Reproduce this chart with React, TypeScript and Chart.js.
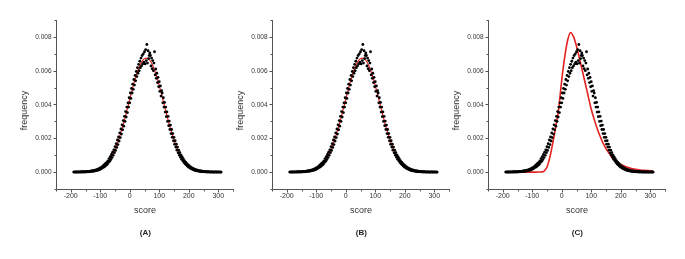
import React, { useEffect, useRef } from 'react';
import { Chart, registerables } from 'chart.js';

Chart.register(...registerables);

// ---- DATA ----
// observed scores: every 2 points from -190 to 310
const scoreStart = -190;
const scoreStep = 2;
// observed frequency, in units of 1e-5
const observedFreq = [
  0, 1, 0, 0, 1, 0, 1, 0, 0, 1,
  1, 0, 1, 2, 0, 1, 2, 1, 0, 2,
  2, 1, 3, 2, 3, 2, 4, 3, 5, 4,
  7, 4, 8, 5, 10, 6, 12, 8, 13, 10,
  16, 11, 19, 14, 24, 17, 27, 20, 31, 26,
  38, 29, 44, 34, 52, 40, 58, 47, 67, 57,
  80, 64, 92, 74, 104, 86, 118, 99, 132, 115,
  150, 128, 168, 146, 190, 163, 208, 184, 232, 204,
  255, 225, 280, 250, 305, 272, 330, 300, 358, 326,
  385, 352, 410, 385, 440, 410, 468, 436, 495, 468,
  520, 490, 548, 515, 572, 540, 596, 565, 618, 585,
  638, 600, 656, 618, 675, 628, 690, 640, 700, 650,
  712, 640, 725, 660, 755, 645, 718, 672, 690, 705,
  690, 628, 675, 612, 660, 600, 645, 712, 575, 610,
  555, 585, 530, 560, 505, 535, 478, 510, 450, 482,
  468, 410, 440, 385, 412, 355, 385, 328, 356, 300,
  330, 275, 302, 252, 278, 228, 252, 206, 228, 185,
  206, 165, 186, 148, 165, 130, 148, 114, 130, 100,
  115, 88, 100, 76, 88, 66, 77, 56, 66, 48,
  58, 42, 50, 35, 43, 29, 36, 24, 31, 20,
  26, 17, 22, 14, 19, 11, 16, 9, 13, 7,
  11, 6, 9, 4, 8, 3, 7, 2, 5, 3,
  4, 2, 3, 1, 3, 1, 2, 0, 2, 1,
  1, 0, 1, 0, 1, 0, 1, 0, 0, 1,
  0, 1, 0, 0, 1, 0, 0, 1, 0, 0,
  0,
];

const fitScores = [
  -190, -180, -170, -160, -150, -140, -130, -120, -110, -100,
  -90, -80, -70, -60, -50, -40, -30, -20, -10, 0,
  10, 20, 30, 40, 50, 60, 70, 80, 90, 100,
  110, 120, 130, 140, 150, 160, 170, 180, 190, 200,
  210, 220, 230, 240, 250, 260, 270, 280, 290, 300, 310,
];
// fitted curves, in units of 1e-5
const normalFit = [
  0.1, 0.23, 0.44, 0.83, 1.5, 2.7, 4.7, 7.9, 12.9, 20.5,
  31.6, 47.4, 69.1, 97.8, 134.5, 179.8, 233.7, 295.0, 361.8, 431.0,
  498.9, 561.2, 613.4, 651.6, 672.5, 674.4, 657.2, 622.3, 572.6, 511.9,
  444.9, 375.6, 308.0, 245.4, 189.9, 142.9, 104.5, 74.2, 51.2, 34.4,
  22.4, 14.2, 8.7, 5.2, 3.05, 1.8, 1.0, 0.55, 0.3, 0.15, 0.07,
];
const skewFit = [
  0, 0, 0, 0, 0, 0, 0, 0, 0, 0,
  0, 0.2, 1, 6, 30, 90, 175, 272, 380, 545,
  680, 780, 826, 800, 745, 672, 598, 523, 447, 372,
  312, 258, 212, 172, 139, 112, 88, 69, 55, 45,
  37, 30, 25, 20, 16, 13, 11, 10, 9, 8, 8,
];

const xTickValues = [-200, -100, 0, 100, 200, 300];
const yTickValues = [0, 0.002, 0.004, 0.006, 0.008];
const panelLabels = ['(A)', '(B)', '(C)'];
const xTitle = 'score';
const yTitle = 'frequency';

// ---- STYLE ----
const FONT = '"Liberation Sans", Arial, sans-serif';
const TEXT = '#333';
const AXIS = '#555';
const RED = '#e3221f';
const PANEL_OFFSET = 216;
const CANVAS_W = 240;
const CANVAS_H = 259;

const axesPlugin = {
  id: 'originAxes',
  afterDraw(chart: any, _args: any, opts: any) {
    const { ctx, chartArea: ca, scales } = chart;
    const x = scales.x;
    const y = scales.y;
    ctx.save();
    ctx.strokeStyle = AXIS;
    ctx.lineWidth = 1;
    const ax = Math.round(ca.left) + 0.5;
    const ay = Math.round(ca.bottom) + 0.5;
    ctx.beginPath();
    ctx.moveTo(ax, Math.round(ca.top));
    ctx.lineTo(ax, ay);
    ctx.lineTo(Math.round(ca.right) + 1, ay);
    ctx.stroke();

    // x ticks (major/minor, outward)
    ctx.beginPath();
    for (let v = x.min; v <= x.max + 1e-9; v += 50) {
      const px = Math.round(x.getPixelForValue(v)) + 0.5;
      const major = Math.round(v) % 100 === 0;
      ctx.moveTo(px, ay);
      ctx.lineTo(px, ay + (major ? 3 : 2));
    }
    // y ticks
    for (let k = -1; k <= 9; k++) {
      const v = k * 0.001;
      const py = Math.round(y.getPixelForValue(v)) + 0.5;
      const major = k % 2 === 0;
      ctx.moveTo(ax, py);
      ctx.lineTo(ax - (major ? 3 : 2), py);
    }
    ctx.stroke();

    ctx.fillStyle = TEXT;
    ctx.font = `7px ${FONT}`;
    ctx.textAlign = 'center';
    ctx.textBaseline = 'middle';
    xTickValues.forEach((v) => {
      ctx.fillText(String(v), x.getPixelForValue(v), ay + 6.5);
    });
    ctx.font = `6.5px ${FONT}`;
    ctx.textAlign = 'right';
    yTickValues.forEach((v) => {
      ctx.fillText(v.toFixed(3), ax - 5, y.getPixelForValue(v) + 0.3);
    });

    ctx.font = `9px ${FONT}`;
    ctx.textAlign = 'center';
    ctx.fillText(xTitle, (ca.left + ca.right) / 2 + 0.5, 210.5);
    ctx.save();
    ctx.translate(24.5, 110.5);
    ctx.rotate(-Math.PI / 2);
    ctx.fillText(yTitle, 0, 0);
    ctx.restore();

    ctx.font = `bold 8px ${FONT}`;
    ctx.fillStyle = '#222';
    ctx.fillText(opts.label, (ca.left + ca.right) / 2 + 0.8, 232.5);
    ctx.restore();
  },
};

function Panel({ index }: { index: number }) {
  const ref = useRef<HTMLCanvasElement | null>(null);
  useEffect(() => {
    if (!ref.current) return;
    const skew = index === 2;
    const fitVals = skew ? skewFit : normalFit;
    const obsPoints = observedFreq.map((v, i) => ({ x: scoreStart + i * scoreStep, y: v / 100000 }));
    const fitPoints = fitScores.map((s, i) => ({ x: s, y: fitVals[i] / 100000 }));
    const chart = new Chart(ref.current, {
      type: 'scatter',
      data: {
        datasets: [
          {
            data: obsPoints,
            pointRadius: 1.4,
            pointStyle: 'circle',
            backgroundColor: '#000',
            borderWidth: 0,
            order: 0,
          },
          {
            type: 'line',
            data: fitPoints,
            borderColor: RED,
            borderWidth: skew ? 1.6 : 1.2,
            pointRadius: 0,
            fill: false,
            cubicInterpolationMode: 'monotone',
            order: 1,
          } as any,
        ],
      },
      options: {
        animation: false,
        responsive: false,
        events: [],
        layout: { padding: { left: 56, top: 20, right: CANVAS_W - 233, bottom: CANVAS_H - 189 } },
        scales: {
          x: { type: 'linear', display: false, min: -250, max: 350 },
          y: { type: 'linear', display: false, min: -0.001, max: 0.009 },
        },
        plugins: {
          legend: { display: false },
          tooltip: { enabled: false },
          originAxes: { label: panelLabels[index] },
        } as any,
      },
      plugins: [axesPlugin],
    });
    return () => chart.destroy();
  }, [index]);
  return (
    <canvas
      ref={ref}
      width={CANVAS_W}
      height={CANVAS_H}
      style={{ position: 'absolute', left: index * PANEL_OFFSET, top: 0, width: CANVAS_W, height: CANVAS_H }}
    />
  );
}

export default function App() {
  return (
    <div style={{ position: 'absolute', left: 0, top: 0, width: 685, height: 259, background: '#fff', overflow: 'hidden' }}>
      {[0, 1, 2].map((i) => (
        <Panel key={i} index={i} />
      ))}
    </div>
  );
}
